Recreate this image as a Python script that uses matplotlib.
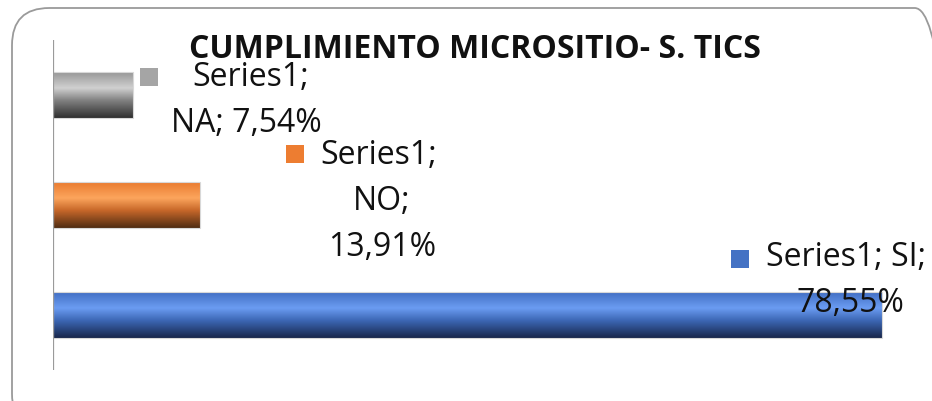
"""Horizontal bar chart: cumplimiento micrositio S. TICS."""

import matplotlib

matplotlib.use("Agg")
import matplotlib.pyplot as plt
import numpy as np
from matplotlib.colors import LinearSegmentedColormap
from matplotlib.patches import FancyBboxPatch

categories = ["SI", "NO", "NA"]
values = [78.55, 13.91, 7.54]
series_name = "Series1"

# top -> highlight -> mid -> bottom shading for each bar
shades = {
    "SI": ["#3f6cc0", "#6b9cf2", "#3d68b6", "#17264a"],
    "NO": ["#e8782c", "#fca55d", "#c8682a", "#4f2c12"],
    "NA": ["#939393", "#d0d0d0", "#828282", "#2e2e2e"],
}
keys = {"SI": "#4472c4", "NO": "#ed7d31", "NA": "#a5a5a5"}

plt.rcParams["font.family"] = ["Open Sans", "DejaVu Sans"]

W, H = 932, 401
fig = plt.figure(figsize=(W / 100, H / 100), dpi=100)
fig.patch.set_facecolor("white")

# rounded chart frame (bottom and right edges run off the canvas)
frame = FancyBboxPatch(
    (12 / W, -30 / H), 940 / W, 423 / H,
    boxstyle="round,pad=0,rounding_size=0.04",
    transform=fig.transFigure, facecolor="none",
    edgecolor="#9a9a9a", linewidth=1.3, mutation_aspect=W / H,
)
fig.patches.append(frame)

ax = fig.add_axes([53 / W, 31 / H, 865 / W, 330 / H])
ax.axis("off")
ax.axvline(0, color="#9a9a9a", linewidth=1.6, zorder=5)

pos = np.arange(len(categories))
bars = ax.barh(pos, values, height=0.42, facecolor="none", edgecolor="#d8d8d8", linewidth=0.8, zorder=3)

grad = np.linspace(0, 1, 256).reshape(-1, 1)
for cat, bar in zip(categories, bars):
    cmap = LinearSegmentedColormap.from_list(
        cat, list(zip([0.0, 0.36, 0.62, 1.0], shades[cat]))
    )
    x0, y0 = bar.get_x(), bar.get_y()
    w, h = bar.get_width(), bar.get_height()
    im = ax.imshow(grad, cmap=cmap, aspect="auto", extent=(x0, x0 + w, y0, y0 + h), zorder=2)
    im.set_clip_path(bar)

ax.set_xlim(0, 82)
ax.set_ylim(-0.5, 2.5)

fs = 23


def fmt(v):
    return f"{v:.2f}".replace(".", ",") + "%"


# data labels with legend keys (figure pixel positions)
label_layout = {
    "NA": dict(key=(149, 77), lines=[(192, 78, "left"), (246, 124, "center")],
               text=[f"{series_name};", f"NA; {fmt(values[2])}"]),
    "NO": dict(key=(295, 154), lines=[(320, 155, "left"), (382, 201, "center"), (382, 248, "center")],
               text=[f"{series_name};", "NO;", fmt(values[1])]),
    "SI": dict(key=(740, 259), lines=[(766, 258, "left"), (850, 303, "center")],
               text=[f"{series_name}; SI;", fmt(values[0])]),
}

for cat, lay in label_layout.items():
    kx, ky = lay["key"]
    fig.patches.append(plt.Rectangle(((kx - 9) / W, 1 - (ky + 9) / H), 18 / W, 18 / H,
                                     transform=fig.transFigure, facecolor=keys[cat],
                                     edgecolor="none", zorder=6))
    for (x, y, ha), s in zip(lay["lines"], lay["text"]):
        fig.text(x / W, 1 - y / H, s, ha=ha, va="center", fontsize=fs, color="#111111", zorder=7)

fig.text(475 / W, 1 - 50 / H, "CUMPLIMIENTO MICROSITIO- S. TICS", ha="center", va="center",
         fontsize=23, fontweight="bold", color="#111111", zorder=8)

fig.savefig("out.png", dpi=100, facecolor="white")
